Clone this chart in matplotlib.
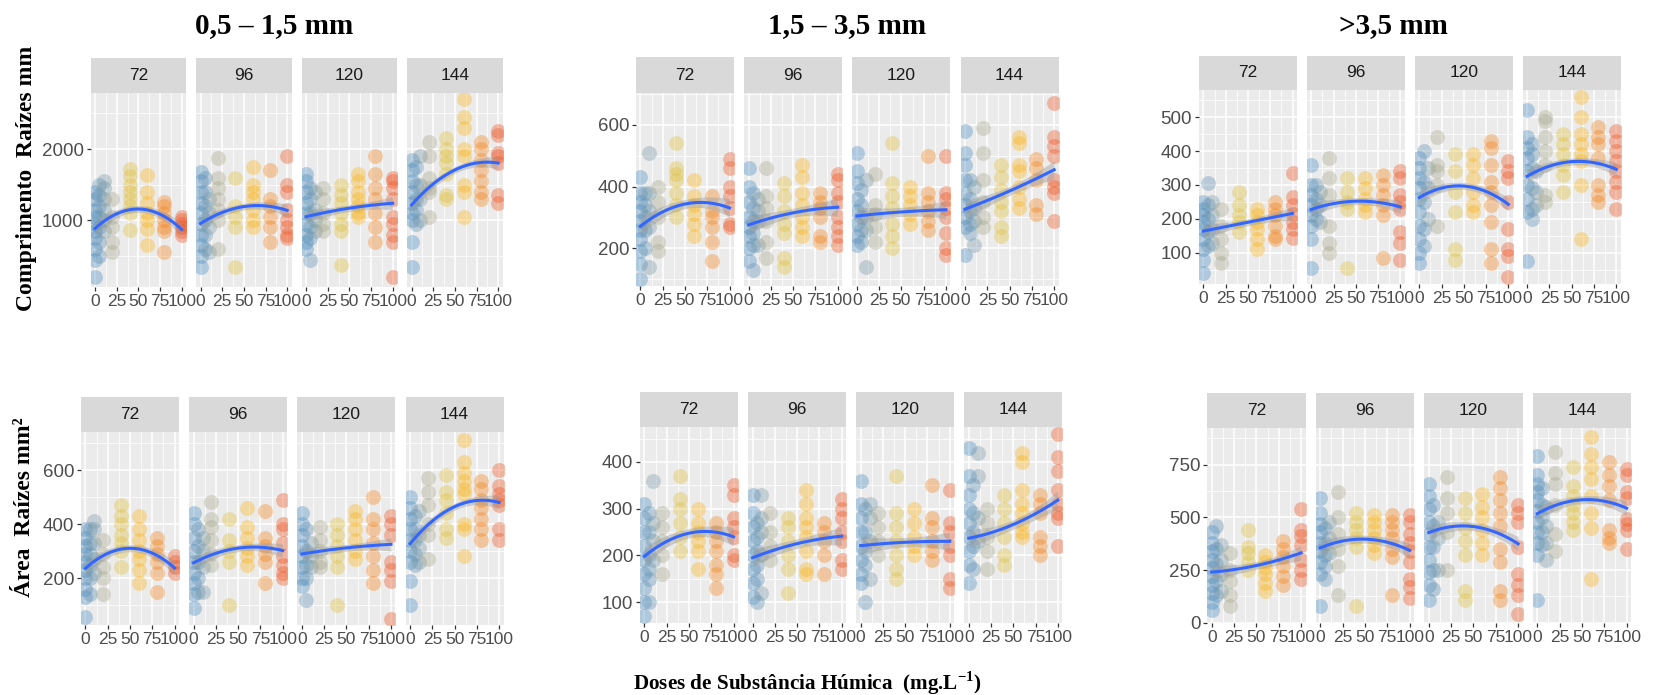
import matplotlib

matplotlib.use("Agg")

import matplotlib.pyplot as plt
import numpy as np
from matplotlib.colors import LinearSegmentedColormap, Normalize

doses = [0, 5, 10, 20, 40, 60, 80, 100]
hours = [72, 96, 120, 144]
smooth_x = [0, 25, 50, 75, 100]

# Comprimento de raízes (mm), uma lista de valores por dose
comp_fina = {
    72: [[210, 450, 600, 750, 850, 950, 1050, 1150, 1300, 1400],
         [500, 700, 900, 1050, 1200, 1350, 1500],
         [850, 1000, 1150, 1300, 1450, 1550],
         [550, 700, 900, 1050, 1300],
         [870, 1100, 1200, 1300, 1400, 1500, 1620, 1720],
         [650, 880, 1000, 1100, 1250, 1400, 1630],
         [560, 850, 900, 1000, 1100, 1200, 1260],
         [800, 850, 900, 950, 1000, 1050]],
    96: [[350, 500, 650, 800, 950, 1100, 1250, 1400, 1550, 1680],
         [600, 800, 1000, 1200, 1400, 1600],
         [560, 900, 1100, 1300],
         [600, 1000, 1150, 1300, 1450, 1600, 1880],
         [350, 900, 1050, 1200, 1600],
         [900, 1000, 1150, 1300, 1400, 1500, 1750],
         [700, 900, 1050, 1200, 1300, 1700],
         [750, 800, 900, 1000, 1150, 1400, 1500, 1900]],
    120: [[600, 700, 800, 950, 1100, 1250, 1400, 1550, 1650],
          [450, 750, 900, 1100, 1300, 1450],
          [850, 1000, 1150, 1400],
          [850, 950, 1100, 1300, 1450],
          [380, 850, 950, 1100, 1250, 1350, 1500],
          [1050, 1100, 1200, 1300, 1400, 1550, 1650],
          [700, 900, 1100, 1300, 1450, 1650, 1900],
          [200, 700, 800, 950, 1050, 1300, 1450, 1550, 1600]],
    144: [[350, 700, 1000, 1100, 1250, 1400, 1550, 1700, 1850],
          [950, 1150, 1300, 1500, 1750],
          [1000, 1300, 1500, 1900],
          [1050, 1400, 1450, 1600, 1900, 2100],
          [1300, 1350, 1650, 1800, 1900, 2000, 2150],
          [1050, 1400, 1500, 1900, 2000, 2300, 2450, 2700],
          [1300, 1400, 1550, 1700, 1850, 2000, 2100],
          [1250, 1350, 1800, 1900, 1950, 2200, 2250]],
}

comp_media = {
    72: [[100, 150, 190, 230, 260, 290, 320, 350, 380, 430],
         [200, 260, 300, 340, 380],
         [140, 270, 320, 380, 510],
         [190, 220, 300, 350, 400],
         [300, 340, 380, 420, 440, 460, 540],
         [240, 280, 310, 340, 370, 420],
         [160, 220, 270, 300, 320, 370],
         [270, 280, 330, 370, 400, 460, 490]],
    96: [[160, 200, 240, 270, 300, 350, 400, 460],
         [130, 210, 250, 290, 330, 380],
         [210, 290, 320, 360],
         [170, 220, 290, 330, 370, 460],
         [140, 170, 250, 280, 320, 370, 410],
         [240, 270, 300, 340, 380, 430, 470],
         [220, 240, 300, 330, 350, 380],
         [210, 240, 270, 300, 350, 380, 420, 440]],
    120: [[210, 240, 280, 320, 360, 410, 450, 510],
          [220, 260, 300, 340, 390],
          [140, 260, 300, 420],
          [220, 270, 310, 340, 440],
          [200, 240, 280, 330, 370, 410, 540],
          [280, 310, 340, 370, 400],
          [260, 290, 320, 350, 380, 500],
          [180, 200, 250, 300, 330, 360, 380, 500]],
    144: [[180, 270, 300, 340, 380, 420, 470, 510, 580],
          [250, 280, 320, 360, 420],
          [210, 290, 330, 400],
          [270, 300, 350, 420, 510, 590],
          [240, 270, 320, 350, 390, 430, 470],
          [330, 360, 400, 450, 470, 540, 560],
          [310, 340, 420, 460, 490],
          [290, 380, 400, 420, 500, 530, 560, 670]],
}

comp_grossa = {
    72: [[40, 80, 110, 140, 170, 190, 210, 230, 250],
         [120, 160, 200, 240, 305],
         [130, 170, 210, 250],
         [70, 100, 140, 180, 230],
         [160, 190, 210, 240, 280],
         [110, 140, 170, 190, 210, 230],
         [140, 150, 180, 210, 230, 250],
         [145, 170, 190, 215, 240, 265, 335]],
    96: [[55, 140, 180, 210, 240, 270, 300, 360],
         [200, 230, 260, 300],
         [190, 240, 280],
         [100, 130, 180, 270, 320, 380],
         [55, 230, 250, 280, 320],
         [220, 240, 260, 290, 320],
         [85, 210, 240, 270, 300, 330],
         [80, 130, 160, 230, 250, 270, 320, 340]],
    120: [[70, 100, 140, 180, 220, 260, 290, 320, 350, 380],
          [120, 170, 250, 310, 400],
          [200, 290, 350],
          [180, 300, 340, 360, 440],
          [80, 110, 220, 280, 340, 390],
          [220, 240, 280, 320, 360, 390],
          [70, 110, 190, 240, 280, 310, 360, 410, 430],
          [30, 90, 110, 170, 250, 320, 340, 370]],
    144: [[75, 220, 260, 300, 340, 380, 410, 440, 520],
          [200, 230, 290, 350, 390, 420],
          [240, 280, 340],
          [250, 270, 360, 400, 440, 490, 500],
          [280, 330, 360, 390, 420, 450],
          [140, 300, 370, 390, 420, 450, 500, 560],
          [250, 270, 300, 380, 420, 440, 470],
          [230, 280, 310, 340, 370, 400, 430, 460]],
}

# Área de raízes (mm²)
area_fina = {
    72: [[55, 130, 160, 200, 230, 260, 290, 320, 350, 380],
         [140, 200, 250, 290, 330, 380],
         [220, 270, 330, 380, 410],
         [140, 200, 240, 290, 340],
         [240, 300, 330, 360, 400, 430, 470],
         [180, 230, 270, 300, 340, 380, 430],
         [150, 220, 260, 290, 320, 350],
         [220, 240, 260, 280]],
    96: [[90, 140, 180, 220, 260, 300, 350, 400, 440],
         [150, 200, 260, 320, 380],
         [150, 240, 300, 350],
         [250, 290, 340, 390, 420, 480],
         [100, 260, 300, 340, 420],
         [250, 280, 310, 350, 390, 460],
         [180, 260, 290, 320, 350, 450],
         [200, 220, 250, 280, 330, 380, 400, 490]],
    120: [[170, 200, 240, 280, 320, 360, 400, 440],
          [120, 200, 250, 300, 380],
          [240, 280, 330],
          [240, 260, 300, 340, 390],
          [100, 240, 280, 320, 360, 400],
          [270, 300, 340, 380, 420, 450],
          [180, 230, 280, 330, 380, 420, 500],
          [50, 190, 230, 260, 360, 400, 430]],
    144: [[100, 190, 260, 300, 340, 380, 420, 460, 500],
          [250, 290, 340, 380, 430],
          [260, 310, 360, 450],
          [270, 360, 400, 470, 520, 570],
          [350, 380, 440, 490, 520, 580],
          [280, 380, 400, 510, 530, 560, 590, 630, 710],
          [340, 380, 420, 460, 490, 530, 560],
          [340, 380, 470, 490, 510, 540, 600]],
}

area_media = {
    72: [[70, 100, 130, 160, 190, 220, 250, 280, 310],
         [100, 150, 170, 200, 250, 290],
         [190, 230, 270, 360],
         [160, 200, 230, 260, 290],
         [210, 240, 270, 300, 320, 370],
         [170, 210, 230, 250, 270, 300],
         [130, 160, 180, 210, 230, 250, 270],
         [190, 200, 240, 260, 280, 330, 350]],
    96: [[110, 140, 170, 200, 230, 260, 290, 330],
         [100, 150, 180, 210, 240, 270],
         [120, 200, 250, 280, 330],
         [190, 220, 250, 290],
         [120, 170, 200, 230, 260, 280],
         [160, 170, 210, 240, 260, 280, 310, 340],
         [160, 200, 230, 250, 270],
         [170, 190, 230, 250, 280, 300, 320]],
    120: [[140, 160, 190, 220, 250, 280, 310, 360],
          [100, 180, 210, 250, 300],
          [150, 230, 280, 310],
          [200, 230, 260, 290],
          [150, 170, 200, 230, 260, 290, 370],
          [200, 220, 240, 270, 300],
          [190, 210, 230, 260, 280, 350],
          [130, 150, 200, 220, 250, 270, 340]],
    144: [[140, 180, 210, 240, 270, 300, 330, 370, 430],
          [170, 220, 250, 290, 350],
          [230, 280, 370, 420],
          [170, 210, 240, 270, 300],
          [180, 200, 240, 270, 300, 330],
          [240, 250, 270, 290, 310, 340, 400, 420],
          [200, 220, 240, 290, 310, 330],
          [220, 280, 290, 310, 340, 380, 410, 460]],
}

area_grossa = {
    72: [[60, 100, 140, 180, 220, 260, 300, 340, 380, 430],
         [130, 200, 280, 350, 460],
         [150, 230, 300, 370],
         [80, 130, 200, 250, 330],
         [250, 290, 330, 360, 440],
         [150, 190, 230, 260, 290, 320],
         [180, 220, 270, 310, 350, 390],
         [210, 250, 300, 370, 410, 440, 540]],
    96: [[80, 230, 290, 340, 380, 430, 470, 520, 590],
         [210, 270, 320, 380, 450],
         [330, 400, 480],
         [130, 270, 350, 420, 500, 620],
         [80, 360, 400, 440, 480, 520],
         [330, 370, 400, 440, 480, 510],
         [130, 310, 350, 400, 440, 480, 510],
         [120, 170, 210, 290, 340, 380, 420, 480, 510]],
    120: [[110, 180, 240, 300, 360, 420, 480, 540, 600, 660],
          [160, 250, 360, 460, 560],
          [250, 400, 480],
          [250, 430, 520, 590, 690],
          [110, 150, 320, 390, 450, 520, 590],
          [320, 380, 440, 500, 550, 610],
          [110, 150, 290, 350, 460, 520, 580, 640, 690],
          [40, 130, 180, 230, 360, 480, 520, 560]],
    144: [[110, 320, 380, 430, 480, 530, 580, 620, 660, 700, 790],
          [370, 430, 500, 560, 640],
          [300, 380, 460, 550],
          [340, 420, 560, 660, 710, 810],
          [440, 480, 520, 560, 600, 650, 740],
          [210, 450, 520, 600, 680, 740, 800, 880],
          [380, 400, 440, 580, 650, 700, 760],
          [350, 440, 470, 490, 590, 620, 700, 730]],
}

# Curvas ajustadas (valores em smooth_x) e meia largura da faixa de confiança
smooth_comp_fina = {72: [880, 1100, 1165, 1070, 880], 96: [960, 1100, 1195, 1210, 1135],
                    120: [1050, 1120, 1170, 1210, 1240], 144: [1230, 1480, 1710, 1830, 1790]}
smooth_comp_media = {72: [273, 315, 345, 349, 330], 96: [276, 298, 315, 327, 333],
                     120: [305, 312, 318, 322, 325], 144: [327, 355, 385, 420, 454]}
smooth_comp_grossa = {72: [164, 177, 190, 203, 216], 96: [228, 245, 252, 249, 235],
                      120: [263, 290, 298, 280, 243], 144: [326, 355, 369, 366, 346]}
smooth_area_fina = {72: [236, 290, 313, 290, 238], 96: [257, 291, 310, 316, 301],
                    120: [289, 302, 312, 319, 325], 144: [328, 410, 464, 489, 479]}
smooth_area_media = {72: [199, 228, 248, 252, 239], 96: [195, 212, 225, 235, 241],
                     120: [221, 225, 228, 230, 230], 144: [237, 248, 266, 290, 318]}
smooth_area_grossa = {72: [241, 252, 271, 300, 331], 96: [355, 389, 397, 381, 344],
                      120: [429, 453, 458, 430, 374], 144: [517, 565, 583, 576, 544]}

band_comp_fina = [90, 55, 50, 55, 90]
band_comp_media = [30, 18, 16, 18, 30]
band_comp_grossa = [20, 12, 11, 12, 20]
band_area_fina = [25, 15, 14, 15, 25]
band_area_media = [20, 12, 11, 12, 20]
band_area_grossa = [35, 22, 20, 22, 35]

group_titles = ["0,5 – 1,5 mm", "1,5 – 3,5 mm", ">3,5 mm"]

W, H = 1679, 695

# Posições em pixels: x0, passo, largura, topo da faixa, topo e base do painel
groups = [
    dict(data=comp_fina, smooth=smooth_comp_fina, band=band_comp_fina,
         x0=90.7, pitch=105.5, width=95.3, strip_top=58, top=92.7, bottom=287,
         ylim=(65, 2790), yticks=[1000, 2000], yminor=[500, 1500, 2500]),
    dict(data=comp_media, smooth=smooth_comp_media, band=band_comp_media,
         x0=636, pitch=108.2, width=98, strip_top=57.3, top=92.7, bottom=286,
         ylim=(78, 704), yticks=[200, 400, 600], yminor=[100, 300, 500, 700]),
    dict(data=comp_grossa, smooth=smooth_comp_grossa, band=band_comp_grossa,
         x0=1199, pitch=107.9, width=98, strip_top=55.7, top=90, bottom=284.3,
         ylim=(7, 580), yticks=[100, 200, 300, 400, 500],
         yminor=[50, 150, 250, 350, 450, 550]),
    dict(data=area_fina, smooth=smooth_area_fina, band=band_area_fina,
         x0=81, pitch=108.2, width=98, strip_top=397.3, top=432, bottom=625,
         ylim=(26, 741), yticks=[200, 400, 600], yminor=[100, 300, 500, 700]),
    dict(data=area_media, smooth=smooth_area_media, band=band_area_media,
         x0=640, pitch=108.1, width=98, strip_top=392.3, top=427.3, bottom=622.7,
         ylim=(56, 474), yticks=[100, 200, 300, 400], yminor=[150, 250, 350, 450]),
    dict(data=area_grossa, smooth=smooth_area_grossa, band=band_area_grossa,
         x0=1207.3, pitch=108.5, width=98.3, strip_top=393.3, top=428.3, bottom=623.3,
         ylim=(-2, 922), yticks=[0, 250, 500, 750], yminor=[125, 375, 625, 875]),
]

plt.rcParams["font.family"] = "Liberation Sans"
plt.rcParams["mathtext.fontset"] = "custom"
plt.rcParams["mathtext.rm"] = "Liberation Serif"
plt.rcParams["mathtext.bf"] = "Liberation Serif:bold"

# Escala contínua de cor para a dose (azul -> cinza -> amarelo -> vermelho)
dose_cmap = LinearSegmentedColormap.from_list(
    "dose",
    [
        (0.0, "#4A8BC0"),
        (0.2, "#A6A68C"),
        (0.5, "#FFCC10"),
        (1.0, "#F0501E"),
    ],
)
dose_norm = Normalize(vmin=0, vmax=100)


def px_axes(figure, left, top, width, height):
    """Cria eixos a partir de coordenadas em pixels."""
    return figure.add_axes(
        [left / W, 1 - (top + height) / H, width / W, height / H]
    )


def draw_panel(axis, values, smooth_y, band, group, first):
    """Desenha um painel: pontos, faixa e curva ajustada."""
    axis.set_facecolor("#EBEBEB")
    for spine in axis.spines.values():
        spine.set_visible(False)

    axis.set_xlim(-5, 105)
    axis.set_ylim(*group["ylim"])
    axis.set_xticks([0, 25, 50, 75, 100])
    axis.set_xticks([12.5, 37.5, 62.5, 87.5], minor=True)
    axis.set_yticks(group["yticks"])
    axis.set_yticks(group["yminor"], minor=True)
    axis.grid(True, which="major", color="white", linewidth=1.1)
    axis.grid(True, which="minor", color="white", linewidth=0.55)
    axis.set_axisbelow(True)

    axis.tick_params(
        axis="both", which="major", length=3, width=0.9, color="#333333",
        labelsize=12.5, labelcolor="#4D4D4D", pad=2,
    )
    axis.tick_params(axis="y", which="major", labelsize=13.5)
    axis.tick_params(axis="both", which="minor", length=0)
    if not first:
        axis.tick_params(axis="y", which="major", length=0, labelleft=False)

    for dose, ys in zip(doses, values):
        axis.scatter(
            [dose] * len(ys), ys,
            s=115, color=dose_cmap(dose_norm(dose)),
            alpha=0.36, linewidths=0, zorder=2,
        )

    xs = np.linspace(0, 100, 200)
    curve = np.polyval(np.polyfit(smooth_x, smooth_y, 2), xs)
    half = np.polyval(np.polyfit(smooth_x, band, 2), xs)
    axis.fill_between(
        xs, curve - half, curve + half,
        color="#999999", alpha=0.4, linewidth=0, zorder=3,
    )
    axis.plot(xs, curve, color="#3366FF", linewidth=2.2, zorder=4)


figure = plt.figure(figsize=(W / 100, H / 100), dpi=100)

for group in groups:
    for index, hour in enumerate(hours):
        left = group["x0"] + index * group["pitch"]
        axis = px_axes(
            figure, left, group["top"], group["width"],
            group["bottom"] - group["top"],
        )
        draw_panel(
            axis, group["data"][hour], group["smooth"][hour],
            group["band"], group, index == 0,
        )

        strip = px_axes(
            figure, left, group["strip_top"], group["width"],
            group["top"] - group["strip_top"],
        )
        strip.set_facecolor("#D9D9D9")
        strip.set_xticks([])
        strip.set_yticks([])
        for spine in strip.spines.values():
            spine.set_visible(False)
        strip.text(
            0.5, 0.5, str(hour), ha="center", va="center",
            fontsize=12.5, color="#1A1A1A", transform=strip.transAxes,
        )

serif = dict(family="Liberation Serif", weight="bold", color="black")

for title, x_px in zip(group_titles, [274, 847.5, 1393]):
    figure.text(
        x_px / W, 1 - 26 / H, title, ha="center", va="center",
        fontsize=21, **serif,
    )

figure.text(
    27 / W, 1 - 178 / H, "Comprimento  Raízes mm", rotation=90,
    ha="center", va="center", fontsize=17, **serif,
)
figure.text(
    25 / W, 1 - 507 / H, "Área  Raízes mm²", rotation=90,
    ha="center", va="center", fontsize=17, **serif,
)
figure.text(
    807 / W, 1 - 683 / H,
    r"Doses de Substância Húmica  (mg.L$^{\mathbf{-1}}$)",
    ha="center", va="center", fontsize=15.2, **serif,
)

figure.savefig("out.png", dpi=100, facecolor="white")
plt.close(figure)
